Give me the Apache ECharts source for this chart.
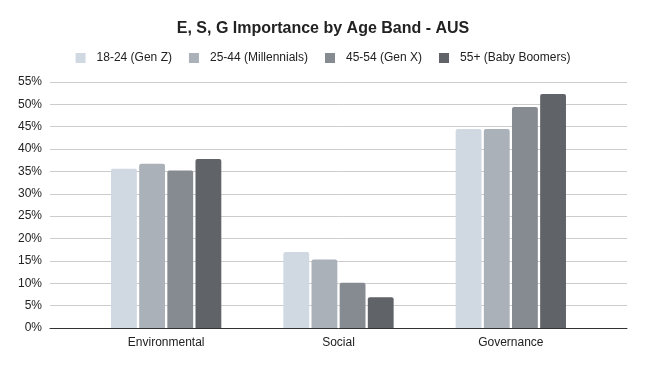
<!DOCTYPE html>
<html>
<head>
<meta charset="utf-8">
<script src="https://cdn.jsdelivr.net/npm/echarts@6/dist/echarts.min.js"></script>
<style>html,body{margin:0;padding:0;background:#fff}#c{width:646px;height:367px}</style>
</head>
<body>
<div id="c"></div>
<script>
var categories = ['Environmental', 'Social', 'Governance'];
var seriesNames = ['18-24 (Gen Z)', '25-44 (Millennials)', '45-54 (Gen X)', '55+ (Baby Boomers)'];
var genZ = [35.6, 17.0, 44.5];
var millennials = [36.7, 15.3, 44.5];
var genX = [35.2, 10.1, 49.4];
var boomers = [37.8, 6.9, 52.3];
var colors = ['#d0d9e2', '#abb1b9', '#868b92', '#606468'];

var values = [genZ, millennials, genX, boomers];
var font = 'Liberation Sans, Arial, sans-serif';
var chart = echarts.init(document.getElementById('c'), null, {renderer: 'canvas'});
chart.setOption({
  animation: false,
  color: colors,
  title: {
    text: 'E, S, G Importance by Age Band - AUS',
    left: 'center', top: 16,
    textStyle: {fontFamily: font, fontSize: 16, fontWeight: 'bold', color: '#222'}
  },
  legend: {
    top: 47, left: 'center',
    itemWidth: 10, itemHeight: 10, itemGap: 17,
    icon: 'rect',
    data: seriesNames,
    textStyle: {fontFamily: font, fontSize: 12, color: '#222', padding: [0, 0, 0, 6]}
  },
  grid: [
    {left: 50, right: 19, top: 82, bottom: 39},
    {left: 80, right: 49, top: 82, bottom: 39}
  ],
  xAxis: [
    {gridIndex: 0, type: 'category', data: [''], axisLine: {show: true, lineStyle: {color: '#333', width: 1}}, axisTick: {show: false}, axisLabel: {show: false}},
    {gridIndex: 1, type: 'category', data: categories, axisLine: {show: false}, axisTick: {show: false},
     axisLabel: {fontFamily: font, fontSize: 12, color: '#222', margin: 9}}
  ],
  yAxis: [
    {gridIndex: 0, type: 'value', min: 0, max: 55, interval: 5,
     axisLine: {show: false}, axisTick: {show: false},
     splitLine: {lineStyle: {color: '#cccccc', width: 1}},
     axisLabel: {fontFamily: font, fontSize: 12, color: '#222', margin: 8, formatter: '{value}%'}},
    {gridIndex: 1, type: 'value', min: 0, max: 55, interval: 5, show: false, splitLine: {show: false}}
  ],
  series: seriesNames.map(function (n, i) {
    return {
      name: n, type: 'bar', xAxisIndex: 1, yAxisIndex: 1,
      data: values[i],
      barGap: '9%', barCategoryGap: '36%',
      itemStyle: {color: colors[i], borderRadius: [2, 2, 0, 0]},
      z: 3
    };
  })
});
</script>
</body>
</html>
